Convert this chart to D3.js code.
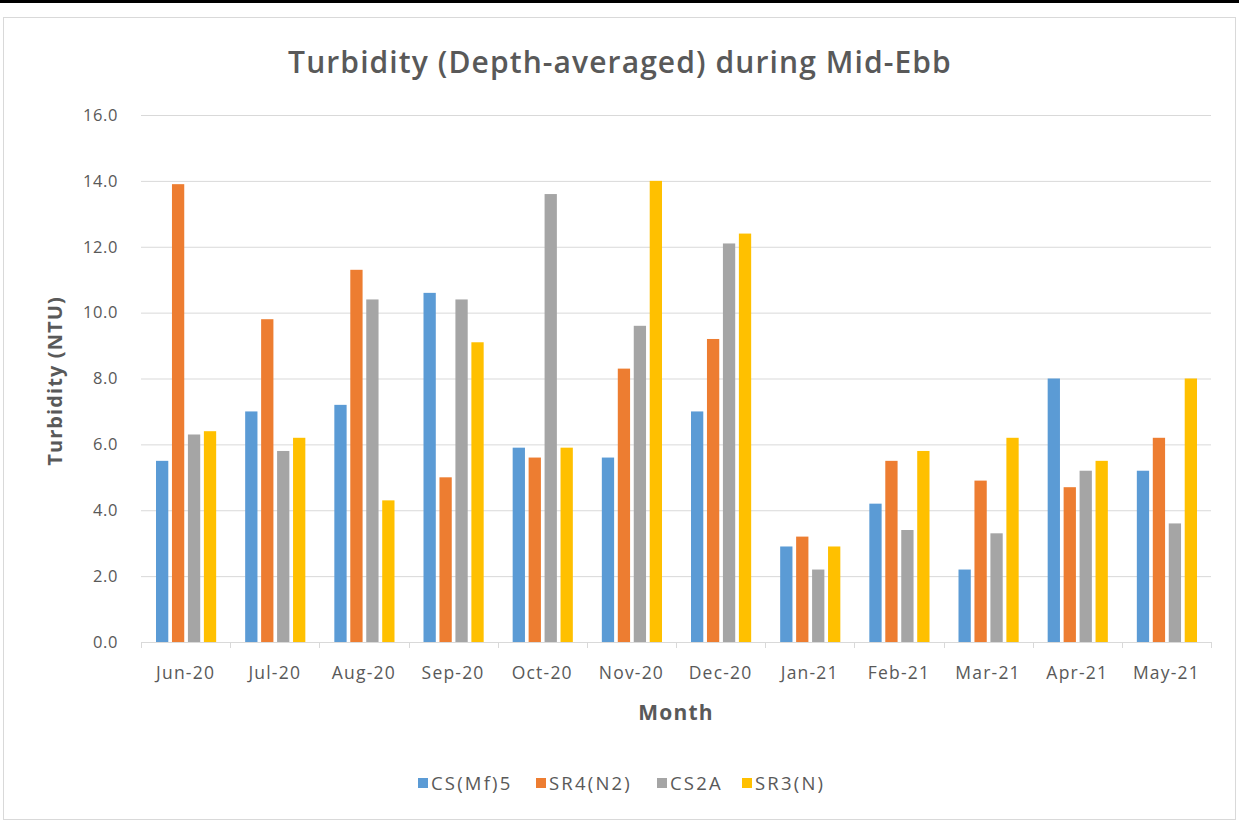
<!DOCTYPE html>
<html>
<head>
<meta charset="utf-8">
<script src="https://cdn.jsdelivr.net/npm/d3@7"></script>
<style>
  body { margin: 0; background: #ffffff; }
  svg { display: block; }
</style>
</head>
<body>
<svg id="chart" width="1239" height="823"></svg>
<script>
// data
const months = ['Jun-20', 'Jul-20', 'Aug-20', 'Sep-20', 'Oct-20', 'Nov-20',
                'Dec-20', 'Jan-21', 'Feb-21', 'Mar-21', 'Apr-21', 'May-21'];
const seriesNames = ['CS(Mf)5', 'SR4(N2)', 'CS2A', 'SR3(N)'];
const csMf5 = [5.5, 7.0, 7.2, 10.6, 5.9, 5.6, 7.0, 2.9, 4.2, 2.2, 8.0, 5.2];
const sr4N2 = [13.9, 9.8, 11.3, 5.0, 5.6, 8.3, 9.2, 3.2, 5.5, 4.9, 4.7, 6.2];
const cs2a  = [6.3, 5.8, 10.4, 10.4, 13.6, 9.6, 12.1, 2.2, 3.4, 3.3, 5.2, 3.6];
const sr3N  = [6.4, 6.2, 4.3, 9.1, 5.9, 14.0, 12.4, 2.9, 5.8, 6.2, 5.5, 8.0];
const yTicks = [0, 2, 4, 6, 8, 10, 12, 14, 16];
const colors = ['#5B9BD5', '#ED7D31', '#A5A5A5', '#FFC000'];

const seriesValues = [csMf5, sr4N2, cs2a, sr3N];

var svg = d3.select('#chart');
var textColor = '#595959';
var font = '"Open Sans", "DejaVu Sans", sans-serif';

// top black strip + chart frame
svg.append('rect').attr('x', 0).attr('y', 0).attr('width', 1239).attr('height', 3).style('fill', '#000');
svg.append('rect')
  .attr('x', 3.5).attr('y', 17.5).attr('width', 1232).attr('height', 802)
  .style('fill', '#fff').style('stroke', '#D9D9D9').style('stroke-width', 1);

var plotLeft = 141, plotRight = 1211, plotTop = 115, plotBottom = 642;

var x0 = d3.scaleBand().domain(months).range([plotLeft, plotRight]).paddingInner(0).paddingOuter(0);
var x1 = d3.scaleBand().domain(seriesNames).range([15, x0.bandwidth() - 14]).paddingInner(0.23).paddingOuter(0);
var y = d3.scaleLinear().domain([0, 16]).range([plotBottom, plotTop]);

// gridlines
var yAxis = d3.axisLeft(y).tickValues(yTicks).tickSize(-(plotRight - plotLeft)).tickFormat(d3.format('.1f'));
var gy = svg.append('g').attr('transform', 'translate(' + plotLeft + ',0)').call(yAxis);
gy.select('.domain').remove();
gy.selectAll('.tick line').style('stroke', '#D9D9D9').style('stroke-width', 1);
gy.selectAll('.tick text')
  .attr('x', -23)
  .style('font-family', font).style('font-size', '16.5px').style('letter-spacing', '0.6px')
  .style('fill', textColor);

// bars
months.forEach(function(m, i) {
  var g = svg.append('g').attr('transform', 'translate(' + x0(m) + ',0)');
  seriesNames.forEach(function(s, k) {
    var v = seriesValues[k][i];
    g.append('rect')
      .attr('x', x1(s))
      .attr('y', y(v))
      .attr('width', x1.bandwidth())
      .attr('height', y(0) - y(v))
      .style('fill', colors[k]);
  });
});

// x axis
var xAxis = d3.axisBottom(x0).tickSize(0);
var gx = svg.append('g').attr('transform', 'translate(0,' + plotBottom + ')').call(xAxis);
gx.select('.domain').style('stroke', '#D9D9D9');
gx.selectAll('.tick text')
  .attr('y', 25)
  .style('font-family', font).style('font-size', '17.5px').style('letter-spacing', '1.2px')
  .style('fill', textColor);
// category separators
var seps = d3.range(months.length + 1).map(function(i) { return plotLeft + i * x0.bandwidth(); });
svg.append('g').selectAll('line').data(seps).enter().append('line')
  .attr('x1', function(d) { return Math.round(d) + 0.5; })
  .attr('x2', function(d) { return Math.round(d) + 0.5; })
  .attr('y1', plotBottom).attr('y2', plotBottom + 6)
  .style('stroke', '#D9D9D9');

// titles
svg.append('text')
  .attr('x', 620).attr('y', 73)
  .attr('text-anchor', 'middle')
  .style('font-family', font).style('font-size', '30px').style('fill', textColor)
  .style('font-weight', 600).style('letter-spacing', '1.1px')
  .text('Turbidity (Depth-averaged) during Mid-Ebb');

svg.append('text')
  .attr('x', 676).attr('y', 720)
  .attr('text-anchor', 'middle')
  .style('font-family', font).style('font-size', '21px').style('font-weight', 'bold')
  .style('letter-spacing', '1.2px').style('fill', textColor)
  .text('Month');

svg.append('text')
  .attr('transform', 'translate(62,381) rotate(-90)')
  .attr('text-anchor', 'middle')
  .style('font-family', font).style('font-size', '20px').style('font-weight', 'bold')
  .style('letter-spacing', '1.1px').style('fill', textColor)
  .text('Turbidity (NTU)');

// legend
var legendX = [418, 536, 657, 742];
var legend = svg.append('g');
seriesNames.forEach(function(s, k) {
  legend.append('rect')
    .attr('x', legendX[k]).attr('y', 778).attr('width', 10).attr('height', 10)
    .style('fill', colors[k]);
  legend.append('text')
    .attr('x', legendX[k] + 13).attr('y', 790)
    .style('font-family', font).style('font-size', '18.5px').style('letter-spacing', '2.2px')
    .style('fill', textColor)
    .text(s);
});
</script>
</body>
</html>
